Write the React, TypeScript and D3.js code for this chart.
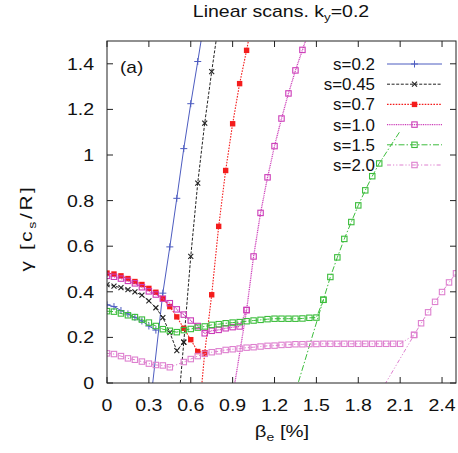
import React from 'react';
import * as d3 from 'd3';

const W = 458;
const H = 453;
const PL = 107, PR = 456, PT = 41, PB = 383;

const xTicks = [0, 0.3, 0.6, 0.9, 1.2, 1.5, 1.8, 2.1, 2.4];
const yTicks = [0, 0.2, 0.4, 0.6, 0.8, 1, 1.2, 1.4];
const seriesLabels = ['s=0.2', 's=0.45', 's=0.7', 's=1.0', 's=1.5', 's=2.0'];

// s = 0.2
const low02: [number, number][] = [[0, 0.343], [0.05, 0.335], [0.1, 0.318], [0.15, 0.303], [0.2, 0.288], [0.25, 0.272], [0.3, 0.25], [0.35, 0.232]];
const steep02: [number, number][] = [[0.3, -0.15], [0.4, 0.394], [0.45, 0.597], [0.5, 0.81], [0.55, 1.028], [0.6, 1.225], [0.65, 1.41], [0.7, 1.6]];
// s = 0.45
const low045: [number, number][] = [[0, 0.431], [0.05, 0.425], [0.1, 0.418], [0.15, 0.41], [0.2, 0.4], [0.25, 0.385], [0.3, 0.36], [0.35, 0.33], [0.4, 0.287], [0.45, 0.221], [0.5, 0.142], [0.55, 0.179]];
const steep045: [number, number][] = [[0.5, -0.18], [0.55, 0.179], [0.6, 0.555], [0.65, 0.877], [0.7, 1.14], [0.75, 1.366], [0.8, 1.58]];
// s = 0.7
const low07: [number, number][] = [[0, 0.482], [0.05, 0.478], [0.1, 0.47], [0.15, 0.458], [0.2, 0.445], [0.25, 0.432], [0.3, 0.415], [0.35, 0.398], [0.4, 0.37], [0.45, 0.335], [0.5, 0.29], [0.55, 0.24], [0.6, 0.19], [0.65, 0.138], [0.7, 0.133]];
const steep07: [number, number][] = [[0.65, -0.2], [0.7, 0.133], [0.75, 0.387], [0.8, 0.687], [0.85, 0.932], [0.9, 1.137], [0.95, 1.313], [1.0, 1.459], [1.05, 1.62]];
// s = 1.0
const low10: [number, number][] = [[0, 0.47], [0.05, 0.466], [0.1, 0.458], [0.15, 0.448], [0.2, 0.437], [0.25, 0.42], [0.3, 0.402], [0.35, 0.388], [0.4, 0.37], [0.45, 0.35], [0.5, 0.323], [0.55, 0.3], [0.6, 0.274], [0.65, 0.25], [0.7, 0.218], [0.75, 0.229], [0.8, 0.233], [0.85, 0.24], [0.9, 0.245], [0.95, 0.248], [1.0, 0.32]];
const steep10: [number, number][] = [[0.9, -0.06], [1.0, 0.32], [1.05, 0.555], [1.1, 0.746], [1.15, 0.902], [1.2, 1.039], [1.25, 1.16], [1.3, 1.27], [1.35, 1.371], [1.4, 1.461], [1.45, 1.55]];
// s = 1.5
const low15: [number, number][] = [[0, 0.315], [0.05, 0.313], [0.1, 0.305], [0.15, 0.297], [0.2, 0.289], [0.25, 0.278], [0.3, 0.265], [0.35, 0.25], [0.4, 0.236], [0.45, 0.229], [0.5, 0.223], [0.55, 0.232], [0.6, 0.237], [0.65, 0.243], [0.7, 0.248], [0.75, 0.255], [0.8, 0.258], [0.85, 0.262], [0.9, 0.265], [0.95, 0.267], [1.0, 0.271], [1.05, 0.274], [1.1, 0.277], [1.15, 0.28], [1.2, 0.282], [1.25, 0.282], [1.3, 0.282], [1.35, 0.282], [1.4, 0.283], [1.45, 0.286], [1.5, 0.287], [1.55, 0.365]];
const steep15: [number, number][] = [[1.3, -0.14], [1.55, 0.365], [1.6, 0.465], [1.65, 0.551], [1.7, 0.632], [1.75, 0.706], [1.8, 0.779], [1.85, 0.845], [1.9, 0.907], [1.95, 0.963], [2.1, 1.105]];
// s = 2.0
const low20: [number, number][] = [[0, 0.13], [0.05, 0.127], [0.1, 0.118], [0.15, 0.108], [0.2, 0.102], [0.25, 0.094], [0.3, 0.085], [0.35, 0.079], [0.4, 0.077], [0.45, 0.069], [0.55, 0.092], [0.6, 0.105], [0.65, 0.118], [0.7, 0.128], [0.75, 0.135], [0.8, 0.139], [0.85, 0.145], [0.9, 0.148], [0.95, 0.151], [1.0, 0.155], [1.05, 0.157], [1.1, 0.16], [1.15, 0.163], [1.2, 0.164], [1.25, 0.167], [1.3, 0.168], [1.35, 0.17], [1.4, 0.17], [1.45, 0.171], [1.5, 0.171], [1.55, 0.172], [1.6, 0.172], [1.65, 0.172], [1.7, 0.172], [1.75, 0.172], [1.8, 0.172], [1.85, 0.172], [1.9, 0.172], [1.95, 0.172], [2.0, 0.172], [2.05, 0.172], [2.1, 0.172], [2.2, 0.211]];
const steep20: [number, number][] = [[1.9, -0.1], [2.2, 0.211], [2.25, 0.262], [2.3, 0.31], [2.35, 0.356], [2.4, 0.399], [2.45, 0.441], [2.5, 0.481], [2.55, 0.52]];

type Marker = 'plus' | 'cross' | 'fsquare' | 'osquare';
interface Style { color: string; dash: string; width: number; marker: Marker; }

const styles: Style[] = [
  { color: '#4d5cc0', dash: 'none', width: 1, marker: 'plus' },
  { color: '#222222', dash: '3,1.6', width: 1, marker: 'cross' },
  { color: '#f41c1c', dash: '1.6,1.3', width: 1.1, marker: 'fsquare' },
  { color: '#cc3cb8', dash: '1,0.8', width: 1.3, marker: 'osquare' },
  { color: '#3cbd3c', dash: '6,2,1.5,2', width: 1, marker: 'osquare' },
  { color: '#de80cf', dash: '4,2,1.2,2,1.2,2', width: 1, marker: 'osquare' },
];

const seriesData: { low: [number, number][]; steep: [number, number][]; hideLast?: boolean }[] = [
  { low: low02, steep: steep02 },
  { low: low045, steep: steep045 },
  { low: low07, steep: steep07 },
  { low: low10, steep: steep10 },
  { low: low15, steep: steep15, hideLast: true },
  { low: low20, steep: steep20 },
];

const FONT = '"Liberation Sans", Arial, Helvetica, sans-serif';

function MarkerShape({ x, y, st }: { x: number; y: number; st: Style }) {
  const c = st.color;
  switch (st.marker) {
    case 'plus':
      return (
        <g stroke={c} strokeWidth={1}>
          <line x1={x - 3.5} x2={x + 3.5} y1={y} y2={y} />
          <line x1={x} x2={x} y1={y - 3.5} y2={y + 3.5} />
        </g>
      );
    case 'cross':
      return (
        <g stroke={c} strokeWidth={1.1}>
          <line x1={x - 2.5} x2={x + 2.5} y1={y - 2.5} y2={y + 2.5} />
          <line x1={x - 2.5} x2={x + 2.5} y1={y + 2.5} y2={y - 2.5} />
        </g>
      );
    case 'fsquare':
      return <rect x={x - 2.7} y={y - 2.7} width={5.4} height={5.4} fill={c} />;
    default:
      return <rect x={x - 2.7} y={y - 2.7} width={5.4} height={5.4} fill="none" stroke={c} strokeWidth={1.1} />;
  }
}

function T({ x, y, sx = 1, rot = 0, anchor = 'start', size = 16, children, ls = 0 }: any) {
  return (
    <g transform={`translate(${x},${y}) rotate(${rot}) scale(${sx},1)`}>
      <text x={0} y={0} fontSize={size} textAnchor={anchor} fill="#111" letterSpacing={ls}>{children}</text>
    </g>
  );
}

export default function App() {
  const x = d3.scaleLinear().domain([0, 2.5]).range([PL, PR]);
  const y = d3.scaleLinear().domain([0, 1.5]).range([PB, PT]);
  const line = d3.line<[number, number]>().x(d => x(d[0])).y(d => y(d[1]));

  const legendX0 = 387, legendX1 = 442, legendTextX = 375;
  const legendY0 = 64, legendDy = 20.2;

  return (
    <svg width={W} height={H} style={{ display: 'block', position: 'absolute', left: 0, top: 0 }} fontFamily={FONT}>
      <rect x={0} y={0} width={W} height={H} fill="#fff" />
      <defs>
        <clipPath id="plotclip">
          <rect x={PL} y={PT} width={PR - PL} height={PB - PT} />
        </clipPath>
      </defs>

      {/* title */}
      <T x={281} y={17} sx={1.22} anchor="middle">
        Linear scans. k<tspan fontSize={11} dy={4}>y</tspan><tspan dy={-4}>=0.2</tspan>
      </T>

      {/* data */}
      <g clipPath="url(#plotclip)">
        {seriesData.map((s, i) => {
          const st = styles[i];
          return (
            <g key={i}>
              <path d={line(s.low) || ''} fill="none" stroke={st.color} strokeWidth={st.width} strokeDasharray={st.dash} />
              <path d={line(s.steep) || ''} fill="none" stroke={st.color} strokeWidth={st.width} strokeDasharray={st.dash} />
              {s.low.map((p, j) => <MarkerShape key={'l' + j} x={x(p[0])} y={y(p[1])} st={st} />)}
              {s.steep.map((p, j) => (s.hideLast && j === s.steep.length - 1) ? null : <MarkerShape key={'s' + j} x={x(p[0])} y={y(p[1])} st={st} />)}
            </g>
          );
        })}
      </g>

      {/* frame */}
      <rect x={PL} y={PT} width={PR - PL} height={PB - PT} fill="none" stroke="#222" strokeWidth={1} />

      {/* x ticks */}
      {xTicks.map(t => (
        <g key={'x' + t}>
          <line x1={x(t)} x2={x(t)} y1={PB} y2={PB - 6} stroke="#222" />
          <line x1={x(t)} x2={x(t)} y1={PT} y2={PT + 6} stroke="#222" />
          <T x={x(t)} y={411} sx={1.22} anchor="middle">{t === 0 ? '0' : d3.format('.1f')(t)}</T>
        </g>
      ))}
      {/* y ticks */}
      {yTicks.map(t => (
        <g key={'y' + t}>
          <line x1={PL} x2={PL + 6} y1={y(t)} y2={y(t)} stroke="#222" />
          <line x1={PR} x2={PR - 6} y1={y(t)} y2={y(t)} stroke="#222" />
          <T x={94} y={y(t) + 6} sx={1.22} anchor="end">{d3.format('~g')(t)}</T>
        </g>
      ))}

      {/* axis labels */}
      <T x={282} y={437} sx={1.27} anchor="middle">
        β<tspan fontSize={11} dy={4}>e</tspan><tspan dy={-4}> [%]</tspan>
      </T>
      <T x={32} y={228} rot={-90} sx={1.3} anchor="middle" ls={2}>
        γ [c<tspan fontSize={11} dy={4}>s</tspan><tspan dy={-4}>/R]</tspan>
      </T>

      <T x={120} y={73} size={17} sx={1.12}>(a)</T>

      {/* legend */}
      {seriesLabels.map((lab, i) => {
        const st = styles[i];
        const ly = legendY0 + i * legendDy;
        return (
          <g key={lab}>
            <T x={legendTextX} y={ly + 6} sx={1.06} anchor="end">{lab}</T>
            <line x1={legendX0} x2={legendX1} y1={ly} y2={ly} stroke={st.color} strokeWidth={st.width} strokeDasharray={st.dash} />
            <MarkerShape x={(legendX0 + legendX1) / 2} y={ly} st={st} />
          </g>
        );
      })}
    </svg>
  );
}
